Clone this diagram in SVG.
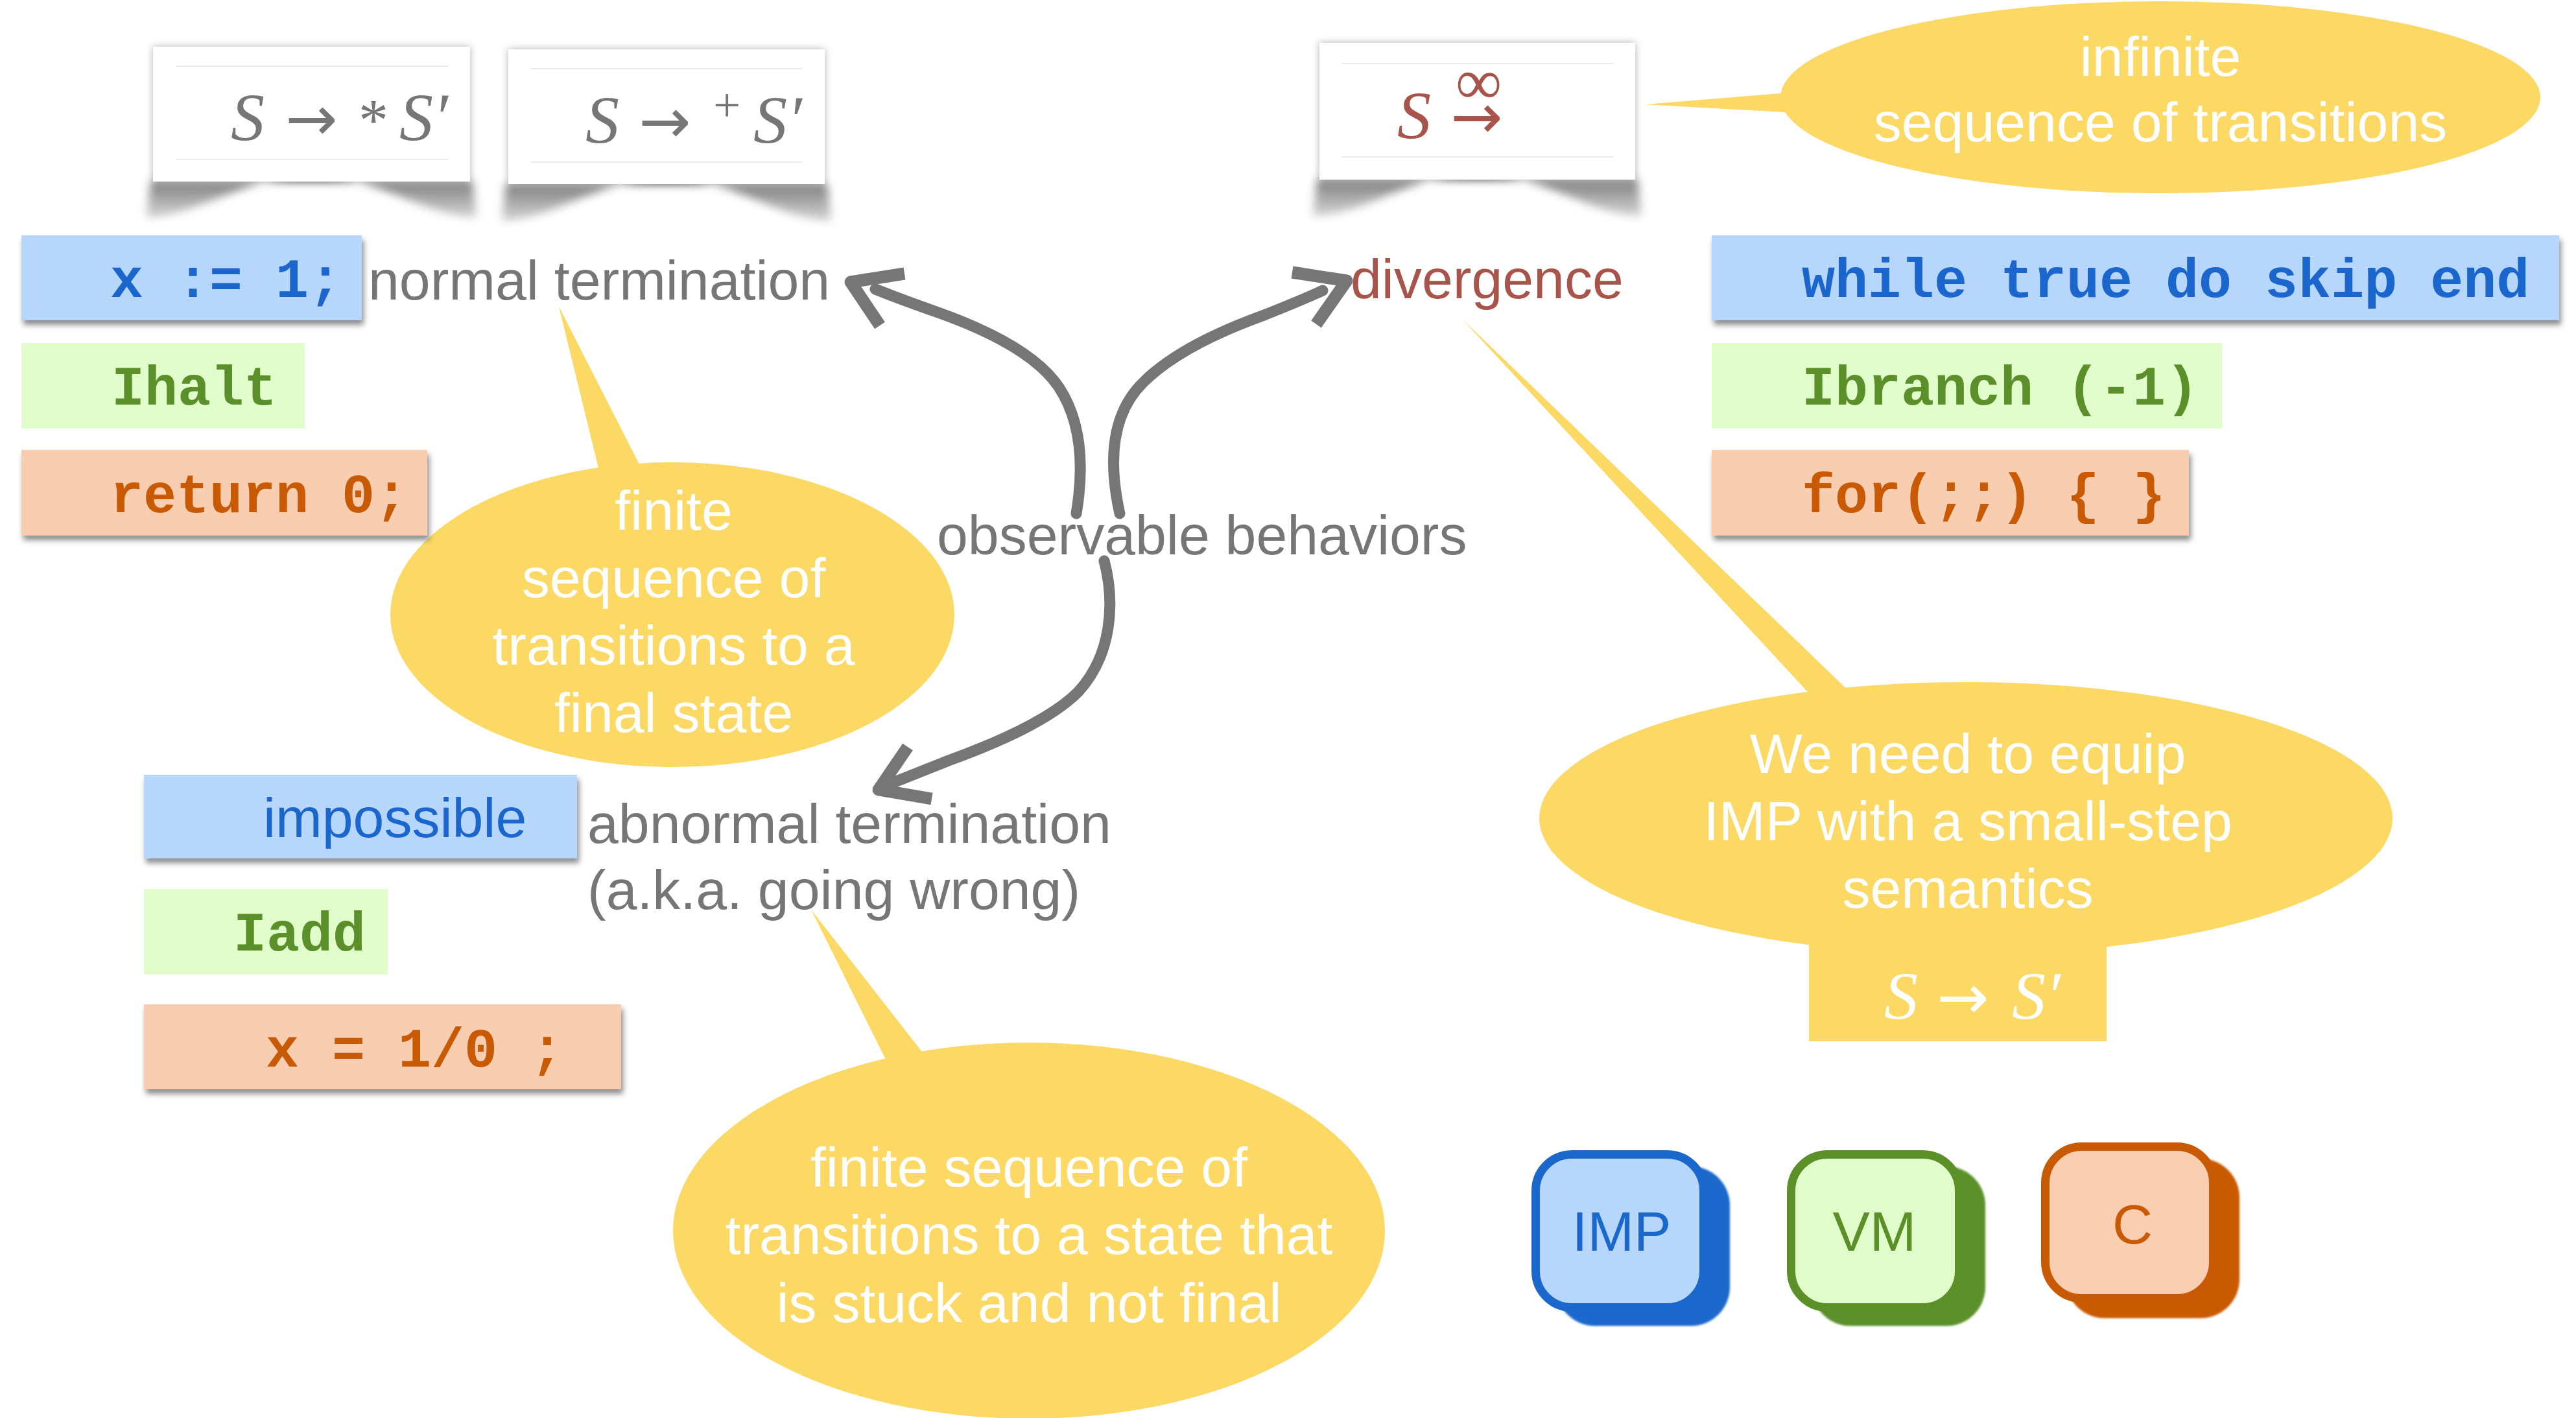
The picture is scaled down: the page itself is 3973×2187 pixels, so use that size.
<svg xmlns="http://www.w3.org/2000/svg" width="3973" height="2187" viewBox="0 0 3973 2187">
  <defs>
    <filter id="boxShadow" x="-5%" y="-20%" width="110%" height="150%">
      <feDropShadow dx="3" dy="7" stdDeviation="4" flood-color="#000" flood-opacity="0.45"/>
    </filter>
    <filter id="cardGlow" x="-10%" y="-10%" width="120%" height="120%">
      <feDropShadow dx="0" dy="0" stdDeviation="6" flood-color="#000" flood-opacity="0.3"/>
    </filter>
    <filter id="curlBlur" x="-10%" y="-40%" width="120%" height="180%">
      <feGaussianBlur stdDeviation="7"/>
    </filter>
    <filter id="soft" x="-5%" y="-5%" width="110%" height="110%">
      <feGaussianBlur stdDeviation="1.5"/>
    </filter>
    <linearGradient id="curlGrad" x1="0" y1="0" x2="0" y2="1">
      <stop offset="0" stop-color="#404040"/>
      <stop offset="0.5" stop-color="#8a8a8a"/>
      <stop offset="1" stop-color="#c8c8c8"/>
    </linearGradient>
  </defs>
  <style>
    .sans { font-family: "Liberation Sans", Arial, Helvetica, sans-serif; font-size: 86px; }
    .mono { font-family: "Liberation Mono", "Courier New", monospace; font-size: 85px; font-weight: bold; }
    .math { font-family: "Liberation Serif", "Times New Roman", "DejaVu Serif", serif; font-size: 104px; }
    .arrow { font-family: "DejaVu Sans", sans-serif; font-size: 96px; font-style: normal; }
    .it { font-style: italic; }
    .gray { fill: #767676; }
    .red { fill: #A9544A; }
    .white { fill: #ffffff; }
    .mid { text-anchor: middle; }
    .bubble { fill: #FCD964; }
    .blueBox { fill: #B6D6FB; }
    .greenBox { fill: #E0FDCB; }
    .orangeBox { fill: #F8CDB0; }
    .blueTxt { fill: #1A66CC; }
    .greenTxt { fill: #5A8F2A; }
    .orangeTxt { fill: #C85A06; }
    .card { fill: #ffffff; }
    .rule { stroke: #ececec; stroke-width: 2; }
    .curl { fill: url(#curlGrad); opacity: 0.8; }
    .stem { fill: none; stroke: #767676; stroke-width: 17; stroke-linecap: round; }
    .head { fill: none; stroke: #767676; stroke-width: 19; stroke-linejoin: round; stroke-linecap: butt; }
  </style>

  <rect x="0" y="0" width="3973" height="2187" fill="#ffffff"/>

  <!-- speech bubbles -->
  <g id="bubble-infinite">
    <polygon class="bubble" points="2537,161 2770,142 2770,174"/>
    <ellipse class="bubble" cx="3332" cy="150" rx="586" ry="148"/>
    <text class="sans white mid" x="3332" y="117">infinite</text>
    <text class="sans white mid" x="3332" y="218">sequence of transitions</text>
  </g>

  <g id="bubble-finite">
    <polygon class="bubble" points="862,473 925,730 988,720"/>
    <ellipse class="bubble" cx="1037" cy="948" rx="435" ry="235"/>
    <text class="sans white mid" x="1039" y="817">finite</text>
    <text class="sans white mid" x="1039" y="921">sequence of</text>
    <text class="sans white mid" x="1039" y="1025">transitions to a</text>
    <text class="sans white mid" x="1039" y="1129">final state</text>
  </g>

  <g id="bubble-stuck">
    <polygon class="bubble" points="1251,1403 1374,1650 1432,1635"/>
    <ellipse class="bubble" cx="1587" cy="1898" rx="549" ry="290"/>
    <text class="sans white mid" x="1587" y="1830">finite sequence of</text>
    <text class="sans white mid" x="1587" y="1934">transitions to a state that</text>
    <text class="sans white mid" x="1587" y="2039">is stuck and not final</text>
  </g>

  <g id="bubble-equip">
    <polygon class="bubble" points="2255,492 2800,1080 2858,1072"/>
    <ellipse class="bubble" cx="3032" cy="1262" rx="658" ry="210"/>
    <rect class="bubble" x="2790" y="1400" width="459" height="206"/>
    <text class="sans white mid" x="3035" y="1192">We need to equip</text>
    <text class="sans white mid" x="3035" y="1296">IMP with a small-step</text>
    <text class="sans white mid" x="3035" y="1400">semantics</text>
    <text class="math white" y="1571" font-size="100"><tspan class="it" x="2906">S</tspan><tspan class="arrow" x="2987">→</tspan><tspan class="it" x="3103">S′</tspan></text>
  </g>

  <!-- formula cards -->
  <g id="card-star">
    <path class="curl" filter="url(#curlBlur)" d="M232,280 L729,280 L735,335 C660,335 570,268 480,268 C390,268 300,335 226,335 Z"/>
    <rect class="card" filter="url(#cardGlow)" x="236" y="72" width="489" height="208"/>
    <line class="rule" x1="272" y1="102" x2="692" y2="102"/>
    <line class="rule" x1="272" y1="246" x2="692" y2="246"/>
    <text class="math gray" y="216"><tspan class="it" x="356">S</tspan><tspan class="arrow" x="440">→</tspan><tspan x="553" font-size="92">*</tspan><tspan class="it" x="616">S′</tspan></text>
  </g>

  <g id="card-plus">
    <path class="curl" filter="url(#curlBlur)" d="M780,284 L1276,284 L1282,340 C1206,340 1118,272 1028,272 C938,272 850,340 774,340 Z"/>
    <rect class="card" filter="url(#cardGlow)" x="784" y="76" width="488" height="208"/>
    <line class="rule" x1="818" y1="106" x2="1237" y2="106"/>
    <line class="rule" x1="818" y1="250" x2="1237" y2="250"/>
    <text class="math gray" y="220"><tspan class="it" x="903">S</tspan><tspan class="arrow" x="985">→</tspan><tspan x="1100" dy="-33" font-size="75">+</tspan><tspan class="it" x="1162" dy="33">S′</tspan></text>
  </g>

  <g id="card-infinite">
    <path class="curl" filter="url(#curlBlur)" d="M2031,277 L2526,277 L2532,333 C2456,333 2368,265 2278,265 C2188,265 2100,333 2025,333 Z"/>
    <rect class="card" filter="url(#cardGlow)" x="2035" y="66" width="487" height="211"/>
    <line class="rule" x1="2070" y1="98" x2="2489" y2="98"/>
    <line class="rule" x1="2070" y1="242" x2="2489" y2="242"/>
    <text class="math red"><tspan class="it" x="2155" y="213">S</tspan><tspan class="arrow" x="2237" y="213" font-size="94">→</tspan><tspan x="2245" y="160" font-size="100">∞</tspan></text>
  </g>

  <!-- behaviour labels -->
  <g id="label-normal"><text class="sans gray" x="568" y="462">normal termination</text></g>
  <g id="label-divergence"><text class="sans red" x="2083" y="460">divergence</text></g>
  <g id="label-observable"><text class="sans gray" x="1445" y="855">observable behaviors</text></g>
  <g id="label-abnormal">
    <text class="sans gray" x="906" y="1300">abnormal termination</text>
    <text class="sans gray" x="906" y="1402">(a.k.a. going wrong)</text>
  </g>

  <!-- code examples: normal termination -->
  <g id="code-imp-normal">
    <rect class="blueBox" filter="url(#boxShadow)" x="33" y="363" width="525" height="131"/>
    <text class="mono blueTxt" x="170" y="458">x := 1;</text>
  </g>
  <g id="code-vm-normal">
    <rect class="greenBox" x="33" y="529" width="437" height="132"/>
    <text class="mono greenTxt" x="172" y="624">Ihalt</text>
  </g>
  <g id="code-c-normal">
    <rect class="orangeBox" filter="url(#boxShadow)" x="33" y="694" width="626" height="132"/>
    <text class="mono orangeTxt" x="170" y="790">return 0;</text>
  </g>

  <!-- code examples: divergence -->
  <g id="code-imp-diverge">
    <rect class="blueBox" filter="url(#boxShadow)" x="2640" y="363" width="1307" height="131"/>
    <text class="mono blueTxt" x="2779" y="458">while true do skip end</text>
  </g>
  <g id="code-vm-diverge">
    <rect class="greenBox" x="2640" y="529" width="787" height="132"/>
    <text class="mono greenTxt" x="2779" y="624">Ibranch (-1)</text>
  </g>
  <g id="code-c-diverge">
    <rect class="orangeBox" filter="url(#boxShadow)" x="2640" y="694" width="736" height="132"/>
    <text class="mono orangeTxt" x="2779" y="790">for(;;) { }</text>
  </g>

  <!-- code examples: going wrong -->
  <g id="code-imp-wrong">
    <rect class="blueBox" filter="url(#boxShadow)" x="222" y="1195" width="668" height="129"/>
    <text class="sans blueTxt" x="406" y="1291">impossible</text>
  </g>
  <g id="code-vm-wrong">
    <rect class="greenBox" x="222" y="1371" width="376" height="132"/>
    <text class="mono greenTxt" x="360" y="1466">Iadd</text>
  </g>
  <g id="code-c-wrong">
    <rect class="orangeBox" filter="url(#boxShadow)" x="222" y="1549" width="736" height="131"/>
    <text class="mono orangeTxt" x="410" y="1645">x = 1/0 ;</text>
  </g>

  <!-- language badges -->
  <g id="lang-imp">
    <rect filter="url(#soft)" x="2400" y="1799" width="268" height="246" rx="60" fill="#1A68CC"/>
    <rect x="2368.5" y="1780.5" width="259" height="236" rx="56" fill="#B6D6FB" stroke="#1A68CC" stroke-width="13"/>
    <text class="sans mid" x="2501" y="1929" fill="#1A68CC">IMP</text>
  </g>
  <g id="lang-vm">
    <rect filter="url(#soft)" x="2794" y="1799" width="268" height="246" rx="60" fill="#5B9029"/>
    <rect x="2762.5" y="1780.5" width="259" height="236" rx="56" fill="#E0FCCB" stroke="#5B9029" stroke-width="13"/>
    <text class="sans mid" x="2891" y="1929" fill="#5B9029">VM</text>
  </g>
  <g id="lang-c">
    <rect filter="url(#soft)" x="3186" y="1787" width="268" height="246" rx="60" fill="#C85A06"/>
    <rect x="3154.5" y="1768.5" width="259" height="234" rx="56" fill="#F9CEB1" stroke="#C85A06" stroke-width="13"/>
    <text class="sans mid" x="3289" y="1918" fill="#C85A06">C</text>
  </g>

  <!-- connectors -->
  <g id="connectors">
    <path class="stem" d="M1660,792 C1672,720 1668,650 1633,597 C1598,545 1520,508 1447,482 C1410,469 1380,458 1350,446"/>
    <path class="head" d="M1395,422 L1312,435 L1357,502"/>
    <path class="stem" d="M1727,792 C1710,715 1712,640 1763,590 C1805,548 1870,515 1947,487 C1985,472 2010,462 2040,448"/>
    <path class="head" d="M1993,420 L2077,433 L2030,500"/>
    <path class="stem" d="M1703,865 C1720,930 1715,1010 1663,1067 C1620,1110 1540,1145 1463,1173 C1430,1186 1400,1198 1370,1210"/>
    <path class="head" d="M1400,1152 L1355,1218 L1437,1232"/>
  </g>
</svg>
